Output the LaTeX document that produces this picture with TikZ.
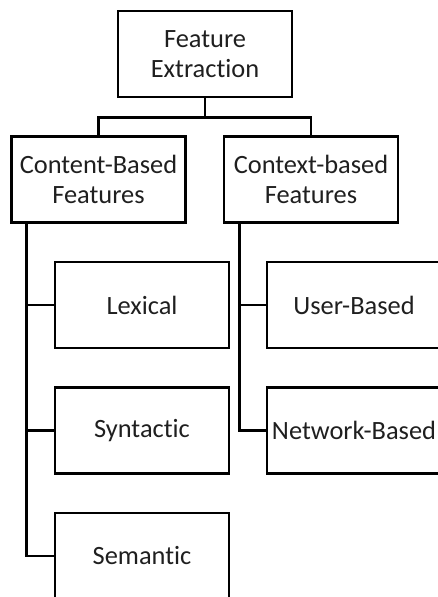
\documentclass[tikz,border=0pt]{standalone}
\usepackage{fontspec}
\setmainfont{Carlito}[Ligatures=NoCommon]
\begin{document}
\begin{tikzpicture}[x=1pt,y=-1pt,
  box/.style={draw, line width=2.6pt, minimum width=174pt, minimum height=86pt,
    inner sep=0pt, align=center, text=black!88,
    font=\fontsize{26.4}{30}\selectfont},
  link/.style={line width=2.6pt}]
\useasboundingbox (0,0) rectangle (438,597);
\clip (0,0) rectangle (438,597);
% root and the two feature families
\node[box] (fe)  at (205,54)    {Feature\\Extraction};
\node[box] (cb)  at (98.5,179.5) {Content-Based\\Features};
\node[box] (ctx) at (311,179.5)  {Context-based\\Features};
% content-based leaves
\node[box] (lex) at (142,305)   {Lexical};
\node[box] (syn) at (142,430.5) {Syntactic};
\node[box] (sem) at (142,556)   {Semantic};
% context-based leaves
\node[box] (usr) at (354,305)   {User-Based};
\node[box] (net) at (354,430.5) {Network-Based};
% root branches
\draw[link] (fe.south) -- ++(0,19) -| (cb.north);
\draw[link] (fe.south) -- ++(0,19) -| (ctx.north);
% content-based trunk
\coordinate (ct) at ([xshift=16pt]cb.south west);
\draw[link] (ct) |- (lex.west);
\draw[link] (ct) |- (syn.west);
\draw[link] (ct) |- (sem.west);
% context-based trunk
\coordinate (xt) at ([xshift=17pt]ctx.south west);
\draw[link] (xt) |- (usr.west);
\draw[link] (xt) |- (net.west);
\end{tikzpicture}
\end{document}
